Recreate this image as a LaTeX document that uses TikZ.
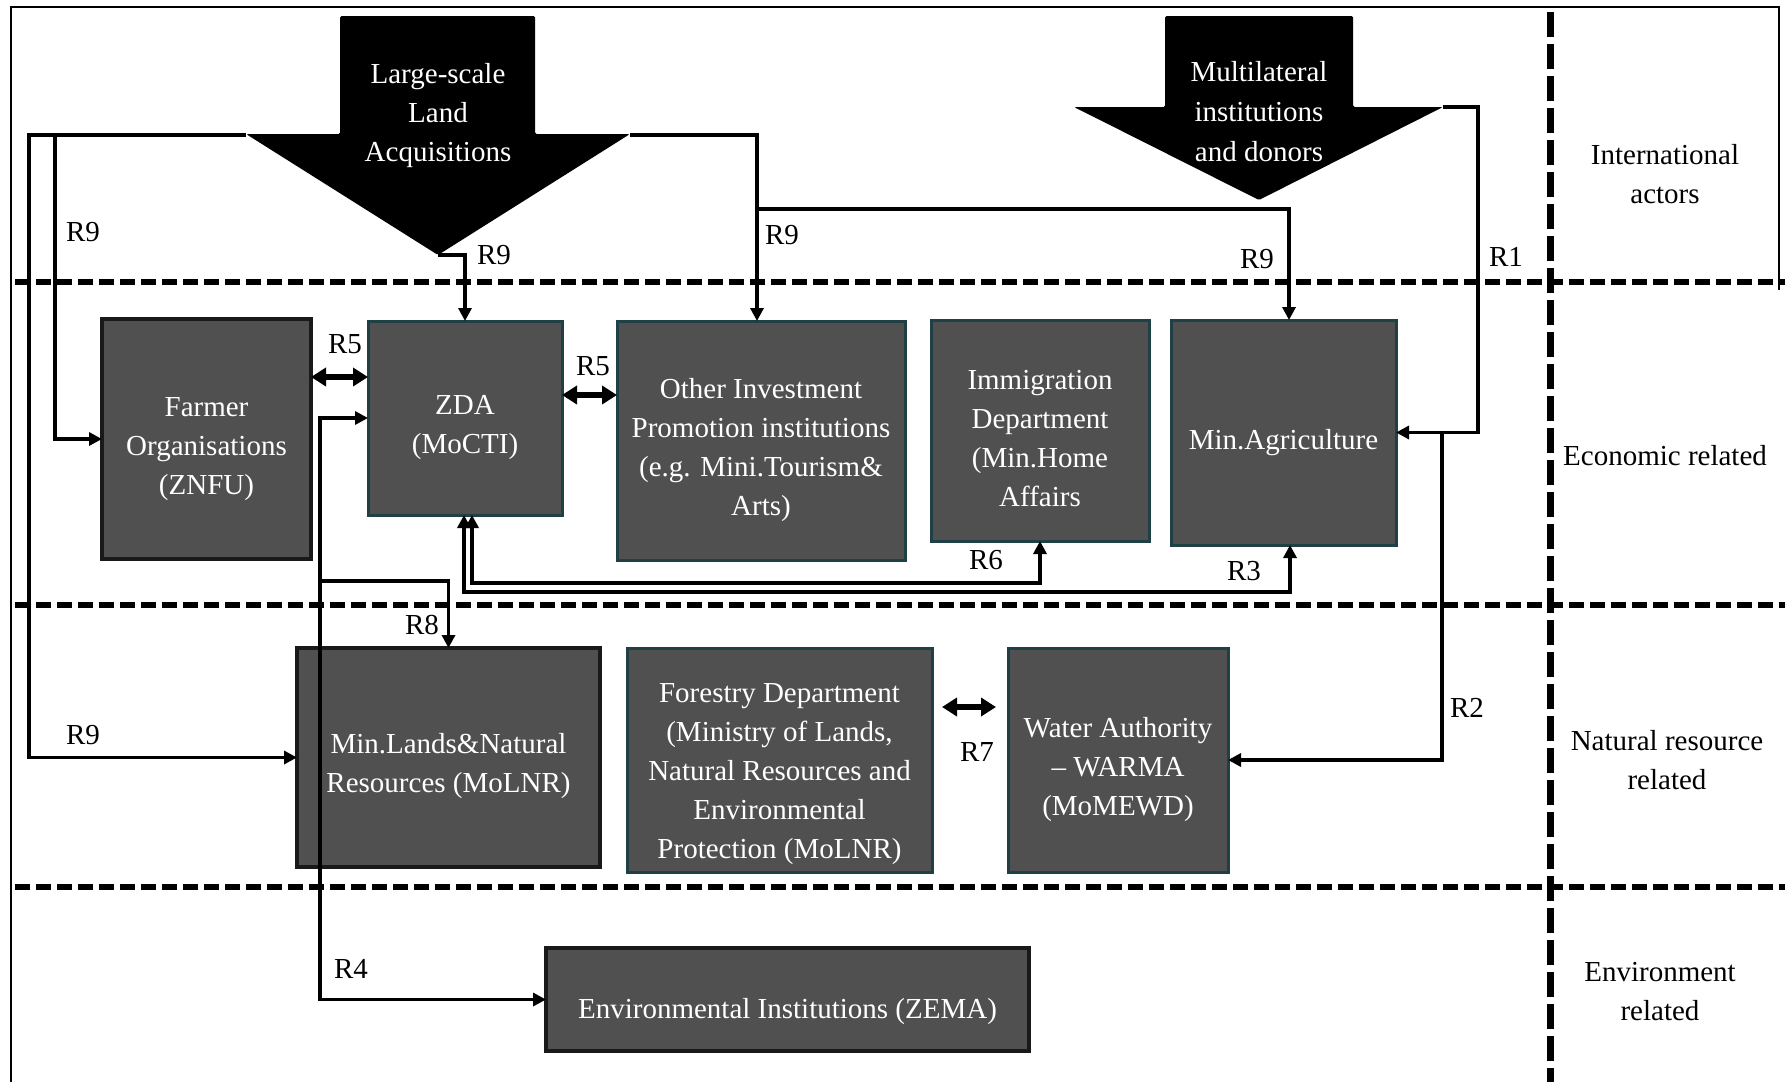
\documentclass[tikz,border=0pt]{standalone}
\usepackage{fontspec}
\setmainfont{Liberation Serif}
\usetikzlibrary{arrows.meta}
\definecolor{boxgray}{HTML}{505050}
\definecolor{tealedge}{HTML}{1F4044}
\begin{document}
\begin{tikzpicture}[x=1pt,y=-1pt,
  txt/.style={font=\fontsize{29}{39}\selectfont, inner sep=0pt, outer sep=0pt, align=center},
  bt/.style={txt, text=white},
  box/.style={inner sep=0pt, outer sep=0pt, fill=boxgray},
  bbox/.style={box, draw=black!90, line width=4.5pt},
  tbox/.style={box, draw=tealedge, line width=3pt},
  conn/.style={line width=3.7pt, -{Triangle[length=13pt,width=13pt]}},
  dconn/.style={line width=3.7pt, {Triangle[length=13pt,width=13pt]}-{Triangle[length=13pt,width=13pt]}},
  bconn/.style={line width=5.5pt, {Triangle[length=15pt,width=18pt]}-{Triangle[length=15pt,width=18pt]}},
  lab/.style={txt},
  sepline/.style={line width=6pt, dash pattern=on 15pt off 6pt},
  vsepline/.style={line width=7pt, dash pattern=on 25pt off 7pt},
]
\useasboundingbox (0,0) rectangle (1785,1082);
\fill[white] (0,0) rectangle (1785,1082);

% frame
\draw[line width=2pt] (11,1082) -- (11,7) -- (1779,7) -- (1779,290);

% separators
\draw[sepline] (15,282) -- (1785,282);
\draw[sepline] (15,605) -- (1785,605);
\draw[sepline] (15,887) -- (1785,887);
\draw[vsepline] (1550,12) -- (1550,1082);

% column labels
\node[lab] (cInt) at (1665,174) {International\\actors};
\node[lab] (cEco) at (1665,456) {Economic related};
\node[lab] (cNat) at (1667,760) {Natural resource\\related};
\node[lab] (cEnv) at (1660,992) {Environment\\related};

% big arrows
\fill[black, rounded corners=1.5pt] (340,16) -- (535,16) -- (535,134) -- (630,134) -- (438,255) -- (246,134) -- (340,134) -- cycle;
\node[bt] (lsla) at (438,116) {Large-scale\\Land\\Acquisitions};
\coordinate (lslaL) at (246,135);
\coordinate (lslaR) at (630,135);
\coordinate (lslaT) at (438,255);

\fill[black, rounded corners=1.5pt] (1165,16) -- (1353,16) -- (1353,107) -- (1443,107) -- (1259,200) -- (1074,107) -- (1165,107) -- cycle;
\node[bt, font=\fontsize{29}{40}\selectfont] (mult) at (1259,112) {Multilateral\\institutions\\and donors};
\coordinate (multR) at (1443,107);

% boxes
\node[bbox, minimum width=209pt, minimum height=240pt,
  label={[bt,yshift=-10pt]center:{Farmer\\Organisations\\(ZNFU)}}] (farmer) at (206.5,439) {};
\node[tbox, minimum width=194pt, minimum height=194pt,
  label={[bt,yshift=-10pt]center:{ZDA\\(MoCTI)}}] (zda) at (465,418) {};
\node[tbox, minimum width=288pt, minimum height=239pt,
  label={[bt,yshift=-10pt]center:{Other Investment\\Promotion institutions\\(e.g. Mini.Tourism\&\\Arts)}}] (other) at (761,440.5) {};
\node[tbox, minimum width=218pt, minimum height=221pt,
  label={[bt,yshift=-8pt]center:{Immigration\\Department\\(Min.Home\\Affairs}}] (imm) at (1040,430.5) {};
\node[tbox, minimum width=225pt, minimum height=225pt,
  label={[bt,yshift=-10pt]center:{Min.Agriculture}}] (minag) at (1283.5,432.5) {};
\node[bbox, minimum width=303pt, minimum height=219pt,
  label={[bt,yshift=-9pt]center:{Min.Lands\&Natural\\Resources (MoLNR)}}] (mlnr) at (448.5,757.5) {};
\node[tbox, minimum width=305pt, minimum height=224pt,
  label={[bt,yshift=-14pt]center:{Forestry Department\\(Ministry of Lands,\\Natural Resources and\\Environmental\\Protection (MoLNR)}}] (forest) at (779.5,760) {};
\node[tbox, minimum width=220pt, minimum height=224pt,
  label={[bt,yshift=-10pt]center:{Water Authority\\\textendash{} WARMA\\(MoMEWD)}}] (water) at (1118,760) {};
\node[bbox, minimum width=483pt, minimum height=103pt,
  label={[bt,yshift=-12pt]center:{Environmental Institutions (ZEMA)}}] (env) at (787.5,999.5) {};

% junction coordinates
\coordinate (j1) at (55,135);
\coordinate (j2) at (757,209);
\coordinate (j4) at (1442,433);
\coordinate (j5) at (320,581);
\coordinate (r5a) at (340,377);
\coordinate (r5b) at (590,395);
\coordinate (r7a) at (942,707);
\coordinate (r7b) at (996,707);

% connectors
\draw[conn] (lslaL) -- (29,135) -- (29,757.5) -- (mlnr.west);
\draw[conn] (j1) -- (55,439) -- (farmer.west);
\draw[conn] (lslaT) -- (465,255) -- (zda.north);
\draw[conn] (lslaR) -| (other.north -| j2);
\draw[conn] (j2) -| ([xshift=5.5pt]minag.north);
\draw[conn] (multR) -- (1478,107) -- (1478,432.5) -- (minag.east);
\draw[conn] (j4) |- (water.east);
\draw[dconn] ([xshift=7pt]zda.south) -- ++(0,68) -| (imm.south);
\draw[dconn] ([xshift=-1pt]zda.south) -- ++(0,77) -| ([xshift=6.5pt]minag.south);
\draw[dconn] (zda.west) -- (320,418) -- (320,999.5) -- (env.west);
\draw[conn] (j5) -| (mlnr.north);
\draw[bconn] (farmer.east |- r5a) -- (zda.west |- r5a);
\draw[bconn] (zda.east |- r5b) -- (other.west |- r5b);
\draw[bconn] (r7a) -- (r7b);

% relation labels
\node[lab] (l1) at (83,232) {R9};
\node[lab] (l2) at (83,735) {R9};
\node[lab] (l3) at (494,255) {R9};
\node[lab] (l4) at (782,235) {R9};
\node[lab] (l5) at (1257,259) {R9};
\node[lab] (l6) at (1506,257) {R1};
\node[lab] (l7) at (345,344) {R5};
\node[lab] (l8) at (593,366) {R5};
\node[lab] (l9) at (986,560) {R6};
\node[lab] (l10) at (1244,571) {R3};
\node[lab] (l11) at (422,625) {R8};
\node[lab] (l12) at (1467,708) {R2};
\node[lab] (l13) at (977,752) {R7};
\node[lab] (l14) at (351,969) {R4};
\end{tikzpicture}
\end{document}
